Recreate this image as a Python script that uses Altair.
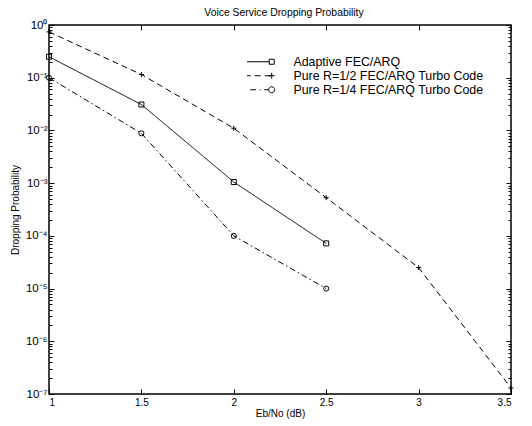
import altair as alt
import pandas as pd

# ---------------- data ----------------
series_names = ["Adaptive FEC/ARQ",
                "Pure R=1/2 FEC/ARQ Turbo Code",
                "Pure R=1/4 FEC/ARQ Turbo Code"]

ebno_adaptive = [1.0, 1.5, 2.0, 2.5]
drop_adaptive = [0.25, 0.031, 0.00105, 7.2e-5]

ebno_half = [1.0, 1.5, 2.0, 2.5, 3.0, 3.5]
drop_half = [0.74, 0.115, 0.011, 5.3e-4, 2.5e-5, 1.3e-7]

ebno_quarter = [1.0, 1.5, 2.0, 2.5]
drop_quarter = [0.1, 0.0088, 1.0e-4, 1.0e-5]

x_tick_values = [1, 1.5, 2, 2.5, 3, 3.5]
y_decades = [1e0, 1e-1, 1e-2, 1e-3, 1e-4, 1e-5, 1e-6, 1e-7]
y_decade_labels = ["10\u2070", "10\u207b\u00b9", "10\u207b\u00b2", "10\u207b\u00b3",
                   "10\u207b\u2074", "10\u207b\u2075", "10\u207b\u2076", "10\u207b\u2077"]
y_minor = [m * 10.0 ** e for e in range(-7, 0) for m in range(2, 10)]

rows = []
for name, xs_, ys_ in zip(series_names,
                          [ebno_adaptive, ebno_half, ebno_quarter],
                          [drop_adaptive, drop_half, drop_quarter]):
    for a, b in zip(xs_, ys_):
        rows.append({"series": name, "x": a, "y": b})
df = pd.DataFrame(rows)

FONT = "Liberation Sans"
xscale = alt.Scale(domain=[1, 3.5], nice=False, zero=False)
yscale = alt.Scale(type="log", domain=[1e-7, 1], nice=False)

label_expr = "[" + ",".join("'%s'" % s for s in y_decade_labels) + "][round(-log(datum.value)/LN10)]"


def tick_axis(orient, values, size):
    return alt.Axis(orient=orient, values=values, labels=False, domain=False, grid=False,
                    ticks=True, tickSize=size, offset=-size, tickColor="black",
                    tickWidth=1, title=None)


def carrier(xaxis, yaxis):
    return alt.Chart(df).mark_point(opacity=0).encode(
        x=alt.X("x:Q", scale=xscale, axis=xaxis),
        y=alt.Y("y:Q", scale=yscale, axis=yaxis),
    )


x_label_axis = alt.Axis(orient="bottom", values=x_tick_values, format="~g", ticks=False,
                        tickSize=0, domain=False, grid=False, labelPadding=3,
                        labelFont=FONT, labelFontSize=10, labelColor="black",
                        title="Eb/No (dB)", titleFont=FONT, titleFontSize=10,
                        titleFontWeight="normal", titleColor="black", titlePadding=1)
y_label_axis = alt.Axis(orient="left", values=y_decades, labelExpr=label_expr, ticks=False,
                        tickSize=0, domain=False, grid=False, labelPadding=2,
                        labelFont=FONT, labelFontSize=11.5, labelColor="black",
                        title="Dropping Probability", titleFont=FONT, titleFontSize=10,
                        titleFontWeight="normal", titleColor="black", titlePadding=5)

axes_layers = [
    carrier(x_label_axis, y_label_axis),
    carrier(tick_axis("bottom", x_tick_values, 5), tick_axis("left", y_decades, 5)),
    carrier(tick_axis("top", x_tick_values, 5), tick_axis("right", y_decades, 5)),
    carrier(None, tick_axis("left", y_minor, 3)),
    carrier(None, tick_axis("right", y_minor, 3)),
]

dashes = [[1, 0], [6, 4], [6, 3, 1.5, 3]]
marker_shapes = ["square", "M-1,0H1M0,-1V1", "circle"]
marker_sizes = [25, 25, 26]

data_layers = []
for name, dash in zip(series_names, dashes):
    data_layers.append(
        alt.Chart(df).transform_filter(alt.datum.series == name)
        .mark_line(color="black", strokeWidth=1, strokeDash=dash)
        .encode(x=alt.X("x:Q", scale=xscale, axis=None),
                y=alt.Y("y:Q", scale=yscale, axis=None))
    )
for name, shp, sz in zip(series_names, marker_shapes, marker_sizes):
    data_layers.append(
        alt.Chart(df).transform_filter(alt.datum.series == name)
        .mark_point(shape=shp, size=sz, filled=False, color="black", strokeWidth=1, opacity=1)
        .encode(x=alt.X("x:Q", scale=xscale, axis=None),
                y=alt.Y("y:Q", scale=yscale, axis=None))
    )

legend_paths = [
    "M-8.4,-1H-6.4V1H-8.4Z M-6.4,0H6.4 M6.4,-1H8.4V1H6.4Z",
    "M-8.6,0H-6.2M-7.4,-1.2V1.2 M-7.4,0H-5.0 M-3.4,0H-1.0 M0.6,0H3.0 M4.6,0H7.4 M6.2,0H8.6M7.4,-1.2V1.2",
    "M-6.2,0A1.2,1.2 0 1,1 -8.6,0A1.2,1.2 0 1,1 -6.2,0 M-6.2,0H-4.4 M-3.0,0H-2.6 M-1.2,0H1.2 M2.6,0H3.0 M4.4,0H6.2 M8.6,0A1.2,1.2 0 1,1 6.2,0A1.2,1.2 0 1,1 8.6,0",
]

legend_layer = alt.Chart(df).transform_filter("false").mark_point(
    filled=False, color="black", strokeWidth=1, opacity=1
).encode(
    x=alt.X("x:Q", scale=xscale, axis=None),
    y=alt.Y("y:Q", scale=yscale, axis=None),
    shape=alt.Shape("series:N", scale=alt.Scale(domain=series_names, range=legend_paths),
                    legend=alt.Legend(orient="none", legendX=198, legendY=32, title=None,
                                      symbolSize=25, symbolStrokeColor="black",
                                      symbolFillColor="transparent", symbolStrokeWidth=1,
                                      symbolOpacity=1,
                                      labelOffset=34, labelFont=FONT, labelFontSize=12.4,
                                      labelColor="black", labelLimit=400, rowPadding=0,
                                      clipHeight=9.5, padding=0)),
)

chart = alt.layer(*axes_layers, *data_layers, legend_layer).resolve_axis(
    x="independent", y="independent"
).properties(
    width=462, height=369,
    autosize="none",
    padding={"left": 41, "top": 17, "right": 13, "bottom": 27},
    title=alt.TitleParams("Voice Service Dropping Probability", font=FONT, fontSize=10.4,
                          fontWeight="normal", color="black", offset=1, anchor="middle", dx=4),
    background="white",
).configure_view(stroke="black", strokeWidth=1.5)

chart.save("out.html", embed_options={"renderer": "svg", "actions": False})
